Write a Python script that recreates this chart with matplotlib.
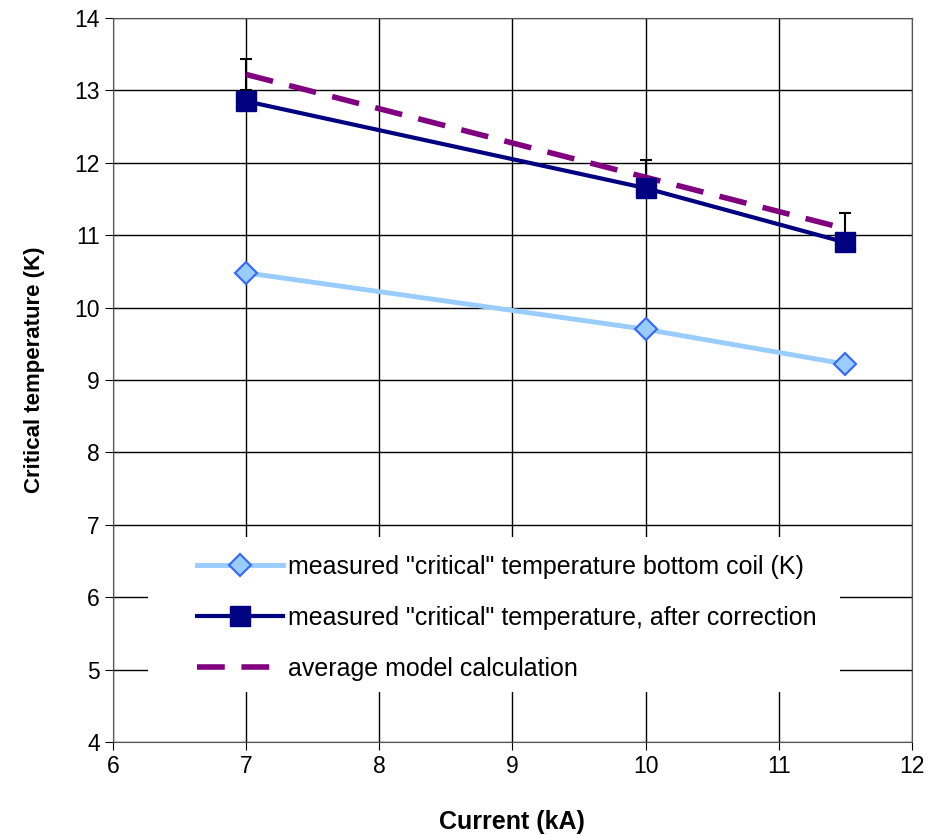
import matplotlib.pyplot as plt
from matplotlib.patches import Rectangle

plt.rcParams['font.family'] = ['Liberation Sans', 'DejaVu Sans']

current = [7, 10, 11.5]
t_bottom = [10.48, 9.70, 9.22]
t_corrected = [12.85, 11.65, 10.90]
t_model = [13.22, 11.80, 11.09]
model_err = [0.21, 0.24, 0.22]

fig = plt.figure(figsize=(9.41, 8.35), dpi=100)
ax = fig.add_axes([0.120, 0.1114, 0.849, 0.8671])

# error bars of the model (drawn first so lines sit on top)
ax.errorbar(current, t_model, yerr=model_err, fmt='none', ecolor='black',
            elinewidth=1.5, capsize=4.5, capthick=1.5, zorder=2)

ax.plot(current, t_bottom, color='#99CCFF', lw=3.5, marker='D', ms=11,
        mfc='#99CCFF', mec='#3366FF', mew=1.5, zorder=3,
        label='measured "critical" temperature bottom coil (K)')
ax.plot(current, t_corrected, color='#000080', lw=3, marker='s', ms=14,
        mfc='#000080', mec='#000080', zorder=4,
        label='measured "critical" temperature, after correction')
ax.plot(current, t_model, color='#800080', lw=4, ls=(0, (5, 3)), zorder=3,
        label='average model calculation')

ax.set_xlim(6, 12)
ax.set_ylim(4, 14)
ax.set_xticks(range(6, 13))
ax.set_yticks(range(4, 15))
ax.grid(True, color='black', lw=1)
ax.set_axisbelow(True)
for s in ax.spines.values():
    s.set_color('#555555')
ax.tick_params(direction='out', length=6, labelsize=16.5, colors='black')

ax.set_xlabel('Current (kA)', fontsize=18, fontweight='bold')
ax.set_ylabel('Critical temperature (K)', fontsize=16, fontweight='bold')
ax.xaxis.set_label_coords(0.5, -0.094)
ax.yaxis.set_label_coords(-0.085, 0.514)

# white area behind the legend, hiding the grid
ax.add_patch(Rectangle((0.044, 0.069), 0.866, 0.214, transform=ax.transAxes,
                       facecolor='white', edgecolor='none', zorder=5))
leg = ax.legend(loc='center left', bbox_to_anchor=(0.105, 0.171), fontsize=18,
                frameon=False, handlelength=3.44, handletextpad=0.2,
                labelspacing=1.08, borderpad=0, borderaxespad=0)
leg.set_zorder(10)

fig.savefig('out.png', dpi=100)
